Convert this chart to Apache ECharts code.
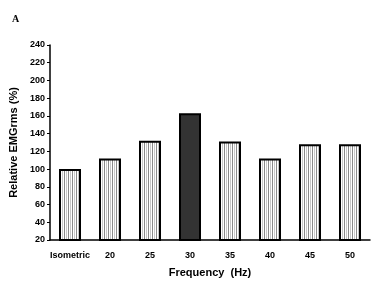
<!DOCTYPE html>
<html>
<head>
<meta charset="utf-8">
<script src="https://cdn.jsdelivr.net/npm/echarts@6/dist/echarts.min.js"></script>
<style>
html,body{margin:0;padding:0;background:#fff;}
#main{width:382px;height:286px;}
</style>
</head>
<body>
<div id="main"></div>
<script>
var categories=['Isometric','20','25','30','35','40','45','50'];
var values=[100,112,132,163,131,112,128,128];
var darkIndex=3;

var myChart=echarts.init(document.getElementById('main'));

function makeStripes(){
	var c=document.createElement('canvas');
	c.width=4;c.height=4;
	var ctx=c.getContext('2d');
	ctx.fillStyle='#ffffff';
	ctx.fillRect(0,0,4,4);
	ctx.fillStyle='#8a8a8a';
	ctx.fillRect(0,0,1,4);
	ctx.fillStyle='#c8c8c8';
	ctx.fillRect(2,0,1,4);
	return c;
}
var stripes=makeStripes();

var data=values.map(function(v,i){
	return {
		value:v,
		itemStyle:i==darkIndex?{color:'#333333'}:{color:{image:stripes,repeat:'repeat'}}
	};
});

var font='"Liberation Sans", Arial, sans-serif';
myChart.setOption({
	animation:false,
	grid:{left:46,right:12,top:45,bottom:46},
	graphic:[{type:'text',left:12,top:14,style:{text:'A',font:'bold 10px "Liberation Serif", serif',fill:'#000'}}],
	xAxis:{
		type:'category',
		data:categories,
		name:'Frequency  (Hz)',
		nameLocation:'middle',
		nameGap:27,
		nameTextStyle:{fontFamily:font,fontWeight:'bold',fontSize:11,color:'#000'},
		axisLine:{lineStyle:{color:'#000',width:1.5}},
		axisTick:{inside:true,length:3,lineStyle:{color:'#000'}},
		axisLabel:{fontFamily:font,fontWeight:'bold',fontSize:9,color:'#000',margin:11,interval:0}
	},
	yAxis:{
		type:'value',
		min:20,max:240,interval:20,
		name:'Relative EMGrms (%)',
		nameLocation:'middle',
		nameGap:31,
		nameTextStyle:{fontFamily:font,fontWeight:'bold',fontSize:11,color:'#000'},
		axisLine:{show:true,lineStyle:{color:'#000',width:1.5}},
		axisTick:{show:true,length:3,lineStyle:{color:'#000'}},
		axisLabel:{fontFamily:font,fontWeight:'bold',fontSize:9,color:'#000',margin:5},
		splitLine:{show:false}
	},
	series:[{
		type:'bar',
		data:data,
		barWidth:22,
		itemStyle:{borderColor:'#000',borderWidth:2}
	}]
});
</script>
</body>
</html>
